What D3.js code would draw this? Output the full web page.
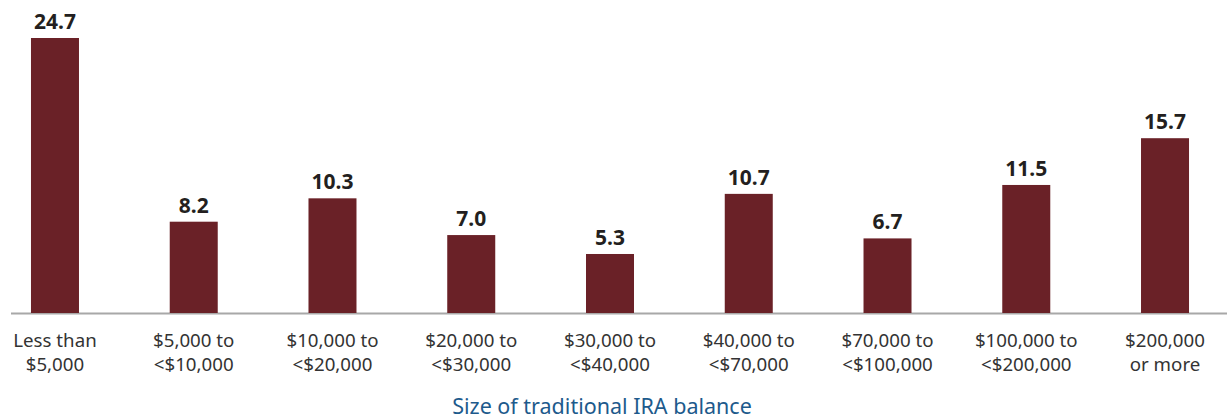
<!DOCTYPE html>
<html><head><meta charset="utf-8">
<script src="https://cdn.jsdelivr.net/npm/d3@7"></script>
<style>body{margin:0;background:#fff;} svg{display:block;}</style>
</head><body>
<svg id="c" width="1227" height="419"></svg>
<script>
const categories = ["Less than|$5,000","$5,000 to|<$10,000","$10,000 to|<$20,000","$20,000 to|<$30,000","$30,000 to|<$40,000","$40,000 to|<$70,000","$70,000 to|<$100,000","$100,000 to|<$200,000","$200,000|or more"];
const values = [24.7, 8.2, 10.3, 7.0, 5.3, 10.7, 6.7, 11.5, 15.7];
const axisTitle = "Size of traditional IRA balance";

const svg = d3.select("#c");
const baseY = 313;
const x = d3.scaleBand().domain(categories).range([-14.4, 1234.4]).paddingInner(1 - 48/138.75).paddingOuter((1 - 48/138.75)/2);
const y = d3.scaleLinear().domain([0, 24.7]).range([baseY, 38]);

svg.append("line").attr("x1", 11).attr("x2", 1227).attr("y1", baseY + 0.5).attr("y2", baseY + 0.5)
  .attr("stroke", "#a8a8a8").attr("stroke-width", 2);

svg.selectAll("rect.bar").data(values).join("rect").attr("class","bar")
  .attr("x", (d,i) => x(categories[i])).attr("width", x.bandwidth())
  .attr("y", d => y(d)).attr("height", d => baseY - y(d))
  .attr("fill", "#6a2127");

svg.selectAll("text.val").data(values).join("text").attr("class","val")
  .attr("x", (d,i) => x(categories[i]) + x.bandwidth()/2).attr("y", d => y(d) - 9)
  .attr("text-anchor","middle").attr("font-family","'Noto Sans', sans-serif").attr("font-weight","bold")
  .attr("font-size", 21).attr("fill","#231f20").text(d => d.toFixed(1));

const lab = svg.selectAll("text.lab").data(categories).join("text").attr("class","lab")
  .attr("text-anchor","middle").attr("font-family","'Noto Sans', sans-serif")
  .attr("font-size", 18.7).attr("fill","#333");
lab.each(function(c){
  const t = d3.select(this); const cx = x(c) + x.bandwidth()/2;
  c.split("|").forEach((s,j) => t.append("tspan").attr("x", cx).attr("y", 347 + j*24).text(s));
});

svg.append("text").attr("x", 602).attr("y", 414).attr("text-anchor","middle")
  .attr("font-family","'Noto Sans', sans-serif").attr("font-size", 21.5).attr("fill","#1d5a8c").text(axisTitle);
</script>
</body></html>
